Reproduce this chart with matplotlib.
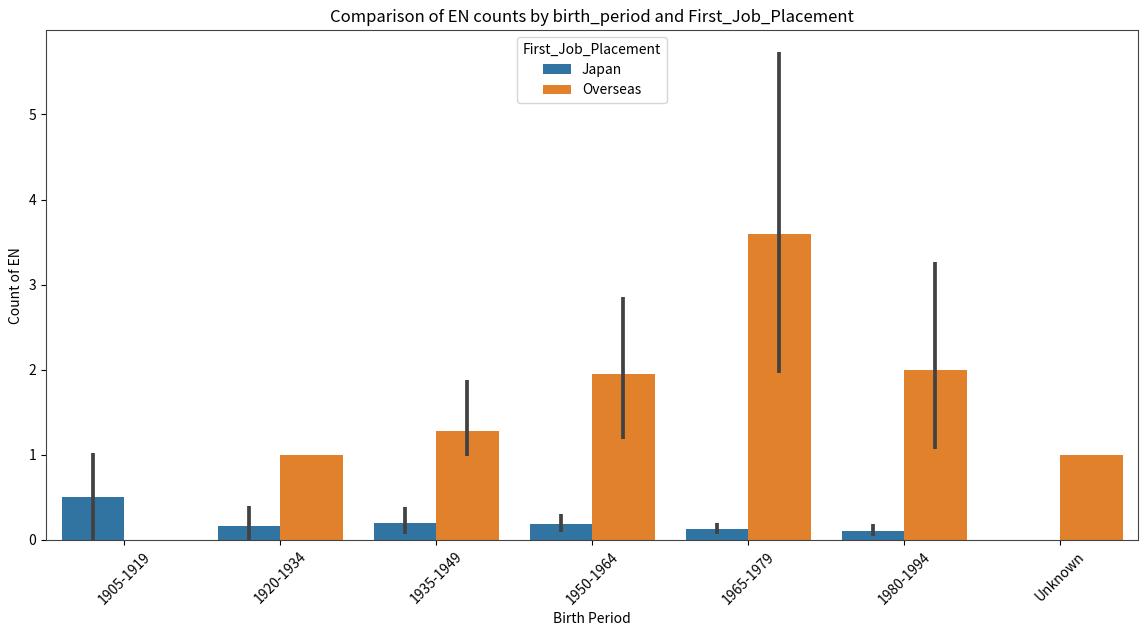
import matplotlib
matplotlib.use("Agg")
import matplotlib.pyplot as plt
import numpy as np

plt.rcParams['font.family'] = ['Noto Sans CJK JP', 'DejaVu Sans']

periods = ["1905-1919", "1920-1934", "1935-1949", "1950-1964", "1965-1979", "1980-1994", "Unknown"]

# mean counts (nan = no data)
japan = [0.50, 0.165, 0.195, 0.185, 0.13, 0.105, np.nan]
japan_lo = [0.0, 0.0, 0.07, 0.09, 0.07, 0.045, np.nan]
japan_hi = [1.02, 0.40, 0.385, 0.305, 0.195, 0.185, np.nan]

overseas = [np.nan, 1.0, 1.285, 1.95, 3.60, 2.0, 1.0]
overseas_lo = [np.nan, np.nan, 0.99, 1.19, 1.96, 1.07, np.nan]
overseas_hi = [np.nan, np.nan, 1.88, 2.86, 5.74, 3.27, np.nan]

fig, ax = plt.subplots(figsize=(11.4, 6.3), dpi=100)

x = np.arange(len(periods))
w = 0.4
series = [
    ("Japan", japan, japan_lo, japan_hi, "#3274a1", -w / 2),
    ("Overseas", overseas, overseas_lo, overseas_hi, "#e1812c", w / 2),
]
for name, vals, lo, hi, col, off in series:
    v = np.array(vals, dtype=float)
    ax.bar(x + off, np.nan_to_num(v), width=w, color=col, label=name)
    for xi, l, h in zip(x + off, lo, hi):
        if not np.isnan(l):
            ax.plot([xi, xi], [l, h], color="#424242", lw=2.7, solid_capstyle="butt")

ax.set_xlim(-0.5, len(periods) - 0.5)
ax.set_ylim(0, 5.99)
ax.set_xticks(x)
ax.set_xticklabels(periods, rotation=45)
for s in ax.spines.values():
    s.set_color("#444444")
ax.set_title("Comparison of EN counts by birth_period and First_Job_Placement")
ax.set_xlabel("Birth Period")
ax.set_ylabel("Count of EN")
ax.legend(title="First_Job_Placement", loc="upper center", fontsize=10,
          title_fontsize=10, labelspacing=0.45, borderaxespad=0.5)

plt.subplots_adjust(left=0.0404, right=0.9985, top=0.952, bottom=0.143)
plt.savefig("out.png")
